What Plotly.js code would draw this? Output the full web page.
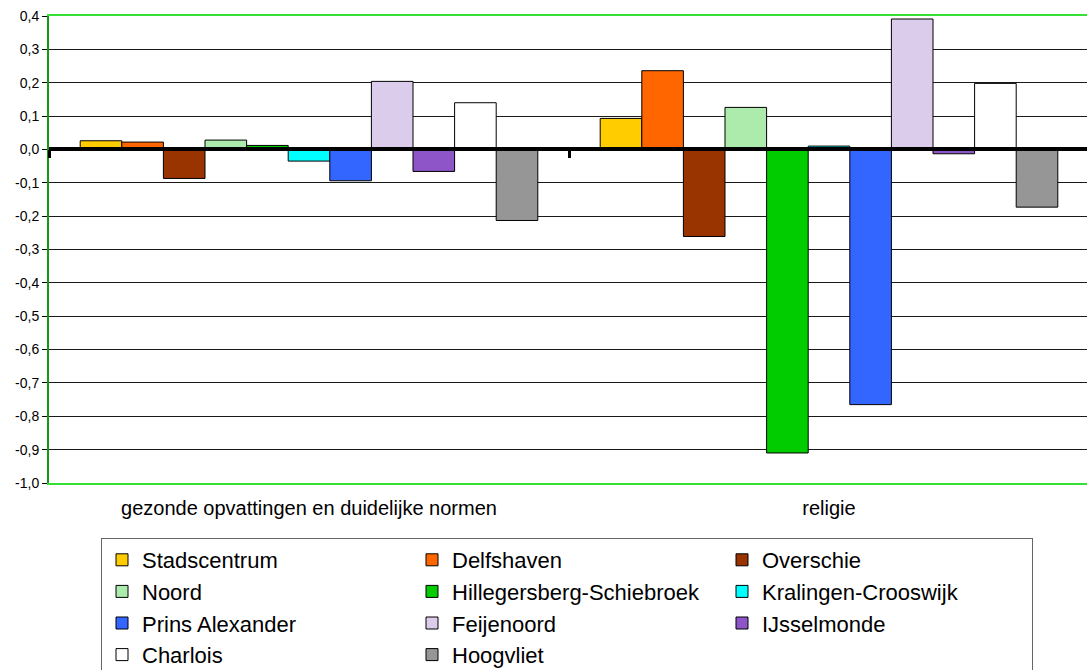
<!DOCTYPE html>
<html>
<head>
<meta charset="utf-8">
<script src="https://cdn.plot.ly/plotly-3.0.1.min.js"></script>
<style>
  html, body { margin: 0; padding: 0; overflow: hidden; background: #fff; }
  #chart { width: 1092px; height: 720px; }
</style>
</head>
<body>
<div id="chart"></div>
<script>
// ---- data ----
const categories = ["gezonde opvattingen en duidelijke normen", "religie"];

const seriesNames = [
  "Stadscentrum", "Delfshaven", "Overschie",
  "Noord", "Hillegersberg-Schiebroek", "Kralingen-Crooswijk",
  "Prins Alexander", "Feijenoord", "IJsselmonde",
  "Charlois", "Hoogvliet"
];

const stadscentrum  = [0.026, 0.093];
const delfshaven    = [0.022, 0.236];
const overschie     = [-0.087, -0.261];
const noord         = [0.028, 0.126];
const hillegersberg = [0.012, -0.910];
const kralingen     = [-0.035, 0.010];
const prinsAlexander = [-0.094, -0.765];
const feijenoord    = [0.204, 0.391];
const ijsselmonde   = [-0.066, -0.013];
const charlois      = [0.140, 0.198];
const hoogvliet     = [-0.213, -0.173];

const seriesValues = [
  stadscentrum, delfshaven, overschie,
  noord, hillegersberg, kralingen,
  prinsAlexander, feijenoord, ijsselmonde,
  charlois, hoogvliet
];

const seriesColors = [
  "#FFCC00", "#FF6600", "#993300",
  "#ADEBAD", "#00CC00", "#00FFFF",
  "#3366FF", "#DCCCEC", "#8E55C8",
  "#FFFFFF", "#969696"
];

const yTickVals  = [0.4, 0.3, 0.2, 0.1, 0, -0.1, -0.2, -0.3, -0.4, -0.5, -0.6, -0.7, -0.8, -0.9, -1.0];
const yTickText  = ["0,4", "0,3", "0,2", "0,1", "0,0", "-0,1", "-0,2", "-0,3", "-0,4", "-0,5", "-0,6", "-0,7", "-0,8", "-0,9", "-1,0"];

// ---- traces ----
const FONT = 'Arial, "Liberation Sans", sans-serif';
const traces = seriesNames.map((name, i) => ({
  type: "bar",
  name: name,
  x: categories,
  y: seriesValues[i],
  marker: { color: seriesColors[i], line: { color: "#000000", width: 1 } },
  hoverinfo: "skip"
}));

// helper trace for the category axis drawn at the zero line (tick marks only)
traces.push({
  type: "scatter",
  mode: "markers",
  x: categories,
  y: [null, null],
  xaxis: "x2",
  showlegend: false,
  hoverinfo: "skip"
});

const layout = {
  width: 1092,
  height: 720,
  margin: { l: 49, r: 3, t: 16, b: 237 },
  paper_bgcolor: "#ffffff",
  plot_bgcolor: "#ffffff",
  font: { family: FONT, color: "#000000" },
  barmode: "group",
  bargap: 0.12,
  bargroupgap: 0,
  showlegend: true,
  xaxis: {
    type: "category",
    categoryorder: "array",
    categoryarray: categories,
    range: [-0.5, 1.5],
    showgrid: false,
    zeroline: false,
    showline: true,
    mirror: true,
    linecolor: "#33E033",
    linewidth: 2,
    ticks: "",
    ticklabelstandoff: 6,
    tickfont: { family: FONT, size: 20, color: "#000000" },
    fixedrange: true
  },
  xaxis2: {
    type: "category",
    categoryorder: "array",
    categoryarray: categories,
    range: [-0.5, 1.5],
    overlaying: "x",
    anchor: "free",
    position: 1 / 1.4,
    side: "bottom",
    showgrid: false,
    zeroline: false,
    showline: false,
    showticklabels: false,
    ticks: "outside",
    tickson: "boundaries",
    ticklen: 8,
    tickwidth: 3,
    tickcolor: "#000000",
    fixedrange: true
  },
  yaxis: {
    range: [-1.0, 0.4],
    tickvals: yTickVals,
    ticktext: yTickText,
    showgrid: true,
    gridcolor: "#1a1a1a",
    gridwidth: 1,
    zeroline: true,
    zerolinecolor: "#000000",
    zerolinewidth: 4,
    zerolinelayer: "above traces",
    showline: true,
    linecolor: "#119911",
    linewidth: 2,
    ticks: "outside",
    ticklen: 5,
    tickcolor: "#000000",
    tickfont: { family: FONT, size: 14, color: "#000000" },
    fixedrange: true
  },
  legend: {
    orientation: "h",
    x: (101 - 49) / 1040,
    xanchor: "left",
    y: -55 / 467,
    yanchor: "top",
    bgcolor: "#ffffff",
    bordercolor: "#666666",
    borderwidth: 1,
    traceorder: "normal",
    entrywidth: 265,
    entrywidthmode: "pixels",
    font: { family: FONT, size: 22, color: "#000000" }
  }
};

Plotly.newPlot("chart", traces, layout, { staticPlot: true, displayModeBar: false });
</script>
</body>
</html>
